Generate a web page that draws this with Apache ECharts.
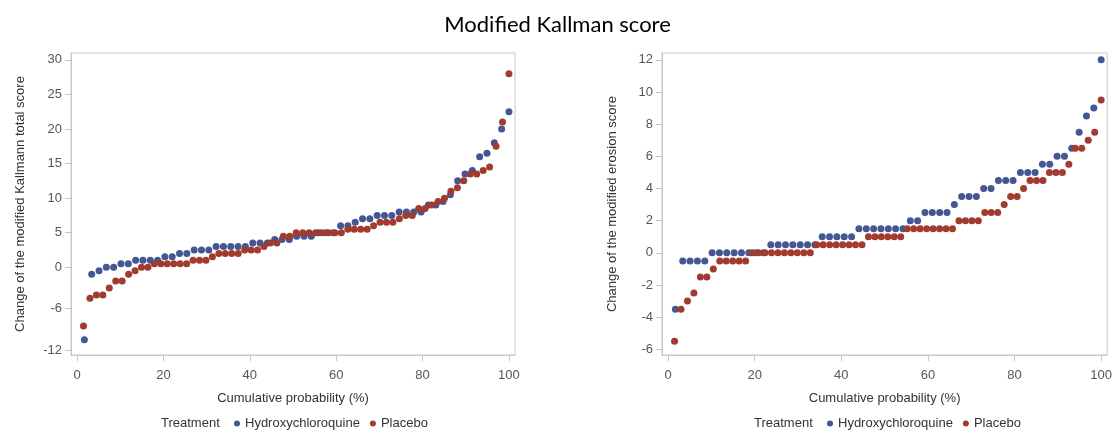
<!DOCTYPE html>
<html>
<head>
<meta charset="utf-8">
<script src="https://cdn.jsdelivr.net/npm/echarts@6/dist/echarts.min.js"></script>
<style>
html,body{margin:0;padding:0;background:#fff;}
#c{width:1115px;height:430px;}
</style>
</head>
<body>
<div id="c"></div>
<script>
// Sorted changes, Modified Kallmann total score
var kallmannHCQ = [-10.5, -1, -0.5, 0, 0, 0.5, 0.5, 1, 1, 1, 1, 1.5, 1.5, 2, 2, 2.5, 2.5, 2.5,
  3, 3, 3, 3, 3, 3.5, 3.5, 3.5, 4, 4, 4, 4.5, 4.5, 4.5, 5, 5, 5, 6, 6, 6.5, 7, 7,
  7.5, 7.5, 7.5, 8, 8, 8, 8, 9, 9, 9.5, 10.5, 12.5, 13.5, 14, 16, 16.5, 18, 20, 22.5];
var kallmannPBO = [-8.5, -4.5, -4, -4, -3, -2, -2, -1, -0.5, 0, 0, 0.5, 0.5, 0.5, 0.5, 0.5, 0.5,
  1, 1, 1, 1.5, 2, 2, 2, 2, 2.5, 2.5, 2.5, 3, 3.5, 3.5, 4.5, 4.5, 5, 5, 5, 5, 5, 5, 5, 5,
  5.5, 5.5, 5.5, 5.5, 6, 6.5, 6.5, 6.5, 7, 7.5, 7.5, 8.5, 8.5, 9, 9.5, 10, 11, 11.5, 12.5,
  13.5, 13.5, 14, 14.5, 17.5, 21, 28];
// Sorted changes, modified erosion score
var erosionHCQ = [-3.5, -0.5, -0.5, -0.5, -0.5, 0, 0, 0, 0, 0, 0, 0, 0,
  0.5, 0.5, 0.5, 0.5, 0.5, 0.5, 0.5, 1, 1, 1, 1, 1, 1.5, 1.5, 1.5, 1.5, 1.5, 1.5, 1.5,
  2, 2, 2.5, 2.5, 2.5, 2.5, 3, 3.5, 3.5, 3.5, 4, 4, 4.5, 4.5, 4.5, 5, 5, 5, 5.5, 5.5,
  6, 6, 6.5, 7.5, 8.5, 9, 12];
var erosionPBO = [-5.5, -3.5, -3, -2.5, -1.5, -1.5, -1, -0.5, -0.5, -0.5, -0.5, -0.5,
  0, 0, 0, 0, 0, 0, 0, 0, 0, 0, 0.5, 0.5, 0.5, 0.5, 0.5, 0.5, 0.5, 0.5,
  1, 1, 1, 1, 1, 1, 1.5, 1.5, 1.5, 1.5, 1.5, 1.5, 1.5, 1.5, 2, 2, 2, 2, 2.5, 2.5, 2.5,
  3, 3.5, 3.5, 4, 4.5, 4.5, 4.5, 5, 5, 5, 5.5, 6.5, 6.5, 7, 7.5, 9.5];

var xTicks = [0, 20, 40, 60, 80, 100];
var kallmannTicks = [-12, -6, 0, 5, 10, 15, 20, 25, 30];
var erosionTicks = [-6, -4, -2, 0, 2, 4, 6, 8, 10, 12];

var seriesNames = ['Hydroxychloroquine', 'Placebo'];
var colors = ['#445694', '#A23A2E'];

function cumul(vals) {
  var n = vals.length;
  return vals.map(function (v, i) { return [(i + 1) / n * 100, v]; });
}

var frameColor = '#c4c8cc';
var labelColor = '#555555';
var nameColor = '#333333';

function xAx(idx) {
  return {
    gridIndex: idx, type: 'value', min: -1.4, max: 101.4,
    name: 'Cumulative probability (%)', nameLocation: 'middle', nameGap: 37,
    nameTextStyle: { fontSize: 13, color: nameColor },
    axisLine: { show: true, onZero: false, lineStyle: { color: frameColor } },
    axisTick: { show: true, length: 6, lineStyle: { color: frameColor }, customValues: xTicks },
    axisLabel: { fontSize: 13, color: labelColor, margin: 14, customValues: xTicks },
    splitLine: { show: false }
  };
}
function yAx(idx, mn, mx, ticks, nm, gap) {
  return {
    gridIndex: idx, type: 'value', min: mn, max: mx,
    name: nm, nameLocation: 'middle', nameGap: gap,
    nameTextStyle: { fontSize: 13, color: nameColor },
    axisLine: { show: true, onZero: false, lineStyle: { color: frameColor } },
    axisTick: { show: true, length: 6, lineStyle: { color: frameColor }, customValues: ticks },
    axisLabel: { fontSize: 13, color: labelColor, margin: 9, customValues: ticks },
    splitLine: { show: false }
  };
}
function sc(name, color, data, idx) {
  return {
    type: 'scatter', name: name, xAxisIndex: idx, yAxisIndex: idx,
    data: data, symbol: 'circle', symbolSize: 7,
    itemStyle: { color: color, opacity: 1 },
    emphasis: { disabled: true }
  };
}

var chart = echarts.init(document.getElementById('c'), null, { renderer: 'canvas' });
chart.setOption({
  animation: false,
  backgroundColor: '#ffffff',
  textStyle: { fontFamily: 'Liberation Sans' },
  title: [
    { text: 'Modified Kallman score', left: 'center', top: 14, padding: 0,
      textStyle: { fontFamily: 'Lato', fontSize: 22, fontWeight: 'normal', color: '#000' } },
    { text: 'Treatment', left: 161, top: 417, padding: 0,
      textStyle: { fontFamily: 'Liberation Sans', fontSize: 13, fontWeight: 'normal', color: nameColor } },
    { text: 'Treatment', left: 754, top: 417, padding: 0,
      textStyle: { fontFamily: 'Liberation Sans', fontSize: 13, fontWeight: 'normal', color: nameColor } }
  ],
  legend: [
    { data: seriesNames, left: 234, top: 417, padding: 0, icon: 'circle', itemWidth: 6, itemHeight: 6,
      itemGap: 10, textStyle: { fontSize: 13, color: nameColor } },
    { data: seriesNames, left: 827, top: 417, padding: 0, icon: 'circle', itemWidth: 6, itemHeight: 6,
      itemGap: 10, textStyle: { fontSize: 13, color: nameColor } }
  ],
  grid: [
    { left: 71, top: 53, width: 444, height: 302, show: true, borderColor: frameColor, borderWidth: 1, backgroundColor: 'transparent' },
    { left: 662, top: 53, width: 448, height: 302, show: true, borderColor: frameColor, borderWidth: 1, backgroundColor: 'transparent' }
  ],
  xAxis: [xAx(0), xAx(1)],
  yAxis: [
    yAx(0, -12.7, 31, kallmannTicks, 'Change of the modified Kallmann total score', 44),
    yAx(1, -6.35, 12.42, erosionTicks, 'Change of the modified erosion score', 43)
  ],
  series: [
    sc(seriesNames[0], colors[0], cumul(kallmannHCQ), 0),
    sc(seriesNames[1], colors[1], cumul(kallmannPBO), 0),
    sc(seriesNames[0], colors[0], cumul(erosionHCQ), 1),
    sc(seriesNames[1], colors[1], cumul(erosionPBO), 1)
  ]
});
</script>
</body>
</html>
